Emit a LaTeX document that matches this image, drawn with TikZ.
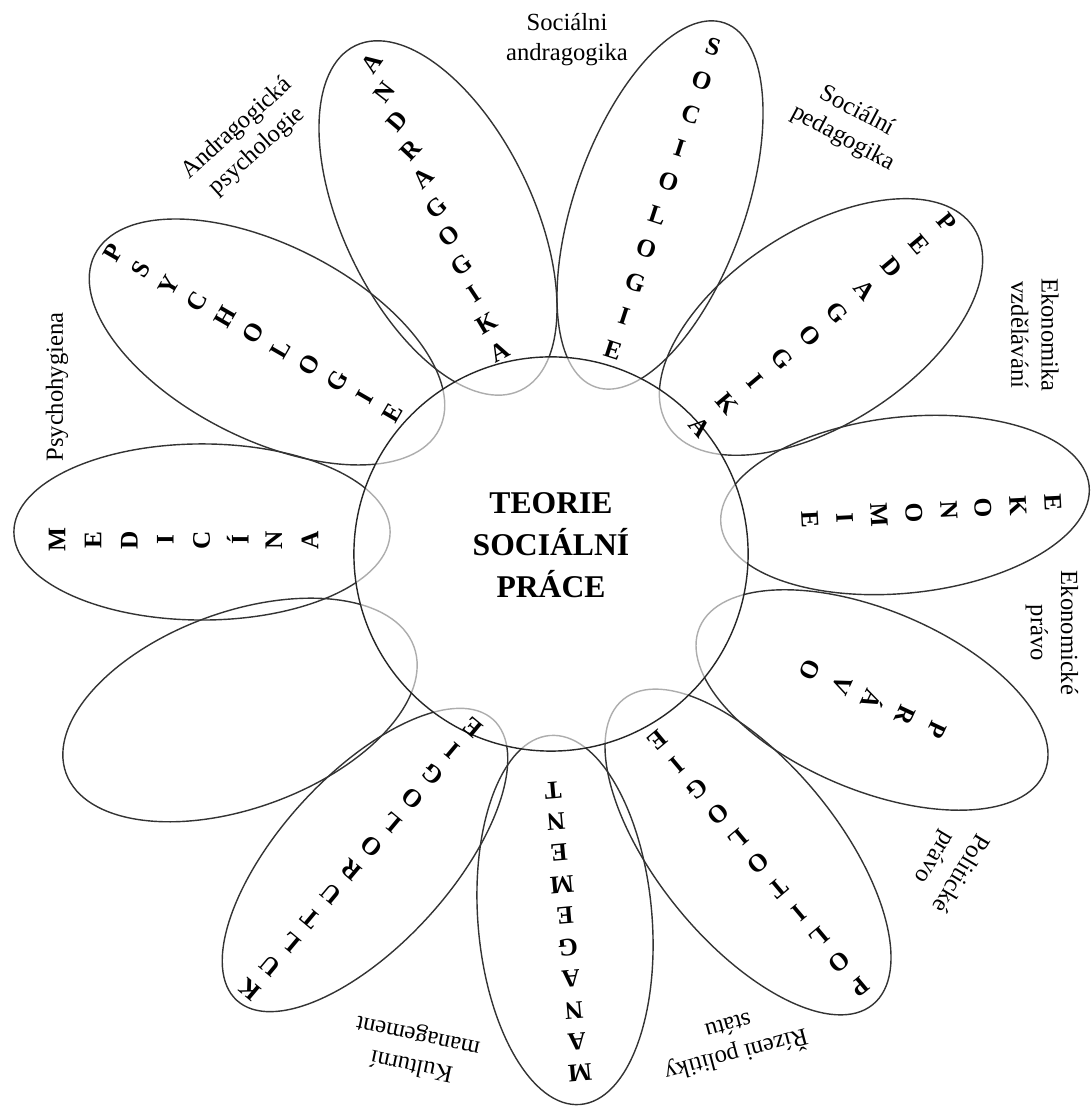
\documentclass[tikz,border=0pt]{standalone}
\usepackage{fontspec}
\setmainfont{Liberation Serif}
\usetikzlibrary{calc,shapes.geometric}

\newcommand{\petalword}[6]{%
  \foreach \ch [count=\k] in {#6} {\xdef\nlet{\k}}%
  \foreach \ch [count=\k] in {#6} {%
    \pgfmathsetmacro\tpos{(\k-1)/(\nlet-1)}%
    \pgfmathsetmacro\trot{#4+(#5-#4)*\tpos}%
    \node[letter, rotate=\trot] (#1-\k) at ($#2!\tpos!#3$) {\ch};%
  }%
}

\begin{document}
\begin{tikzpicture}[x=0.01cm, y=0.01cm,
    petal/.style={ellipse, draw=black!80, line width=0.4pt, inner sep=0pt},
    letter/.style={font=\bfseries\fontsize{7.2}{8}\selectfont, inner sep=0pt},
    side/.style={font=\fontsize{7}{8.6}\selectfont, align=center, inner sep=0pt}]
    \useasboundingbox (0,0) rectangle (1090,1113);

    \node[petal, minimum width=3.82cm, minimum height=1.90cm, rotate=115.6] (andr) at (438,895) {};
    \node[petal, minimum width=3.86cm, minimum height=1.70cm, rotate=70.4] (soci) at (660,908) {};
    \node[petal, minimum width=3.64cm, minimum height=1.94cm, rotate=33] (peda) at (821,786) {};
    \node[petal, minimum width=3.70cm, minimum height=1.76cm, rotate=6] (ekon) at (905,608) {};
    \node[petal, minimum width=3.74cm, minimum height=1.80cm, rotate=-22.8] (prav) at (872,413) {};
    \node[petal, minimum width=3.94cm, minimum height=1.80cm, rotate=-50.7] (poli) at (748,261) {};
    \node[petal, minimum width=3.70cm, minimum height=1.74cm, rotate=94.7] (mana) at (565,193) {};
    \node[petal, minimum width=3.80cm, minimum height=1.70cm, rotate=47.6] (kult) at (365,253) {};
    \node[petal, minimum width=3.70cm, minimum height=1.96cm, rotate=20] (empt) at (240,403) {};
    \node[petal, minimum width=3.76cm, minimum height=1.76cm, rotate=0] (medi) at (202,581) {};
    \node[petal, minimum width=3.86cm, minimum height=1.94cm, rotate=-26.9] (psyc) at (267,771) {};

    \node[circle, draw=black!85, line width=0.4pt, fill=white, fill opacity=0.6,
          minimum size=3.94cm, inner sep=0pt] (core) at (551,559) {};
    \node[font=\bfseries\fontsize{9}{12}\selectfont, align=center] (title) at (551,568) {TEORIE\\SOCIÁLNÍ\\PRÁCE};

    \petalword{andr}{(372,1050)}{(500,761)}{55}{28}{A,N,D,R,A,G,O,G,I,K,A}
    \petalword{soci}{(713,1066)}{(613,763)}{-18}{-18}{S,O,C,I,O,L,O,G,I,E}
    \petalword{peda}{(947,891)}{(700,686)}{-50}{-50}{P,E,D,A,G,O,G,I,K,A}
    \petalword{ekon}{(1053,610)}{(810,593)}{-87}{-87}{E,K,O,N,O,M,I,E}
    \petalword{prav}{(937,383)}{(810,443)}{-115}{-115}{P,R,Á,V,O}
    \petalword{poli}{(860,126)}{(657,373)}{-140}{-140}{P,O,L,I,T,O,L,O,G,I,E}
    \petalword{mana}{(580,40)}{(553,323)}{-175}{-175}{M,A,N,A,G,E,M,E,N,T}
    \petalword{kult}{(250,123)}{(473,386)}{140}{140}{K,U,L,T,U,R,O,L,O,G,I,E}
    \petalword{medi}{(57,573)}{(310,573)}{90}{90}{M,E,D,I,C,Í,N,A}
    \petalword{psyc}{(113,860)}{(393,700)}{60}{60}{P,S,Y,C,H,O,L,O,G,I,E}

    \node[side] (l-sand) at (567,1073) {Sociálni\\andragogika};
    \node[side, rotate=42] (l-apsy) at (247,973) {Andragogická\\psychologie};
    \node[side, rotate=-28] (l-sped) at (850,988) {Sociální\\pedagogika};
    \node[side, rotate=-90] (l-ekvz) at (1035,778) {Ekonomika\\vzdělávání};
    \node[side, rotate=-90] (l-ekpr) at (1052,480) {Ekonomické\\právo};
    \node[side, rotate=-121] (l-popr) at (947,248) {Politické\\právo};
    \node[side, rotate=-165] (l-rizp) at (733,70) {Řízeni politiky\\státu};
    \node[side, rotate=168] (l-kman) at (415,63) {Kulturní\\management};
    \node[side, rotate=90] (l-phyg) at (57,726) {Psychohygiena};
\end{tikzpicture}
\end{document}
